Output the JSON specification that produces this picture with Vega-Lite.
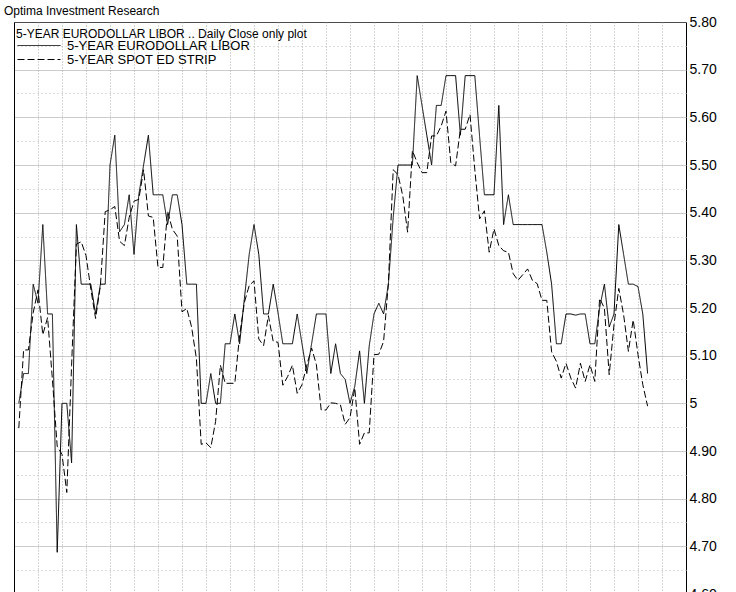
{
 "$schema": "https://vega.github.io/schema/vega-lite/v6.json",
 "width": 672,
 "height": 572,
 "autosize": {"type": "none"},
 "padding": {"left": 14, "top": 22, "right": 50, "bottom": 0},
 "background": "white",
 "title": {"text": "Optima Investment Research", "anchor": "start", "frame": "group", "font": "Liberation Sans", "fontSize": 12, "fontWeight": "normal", "color": "black", "baseline": "alphabetic", "offset": 5, "dx": -10, "dy": 17},
 "data": {"values": [
{"d":0,"libor":5.0,"strip":4.948},{"d":1,"libor":5.0625,"strip":5.112},{"d":2,"libor":5.0625,"strip":5.112},{"d":3,"libor":5.25,"strip":5.19},{"d":4,"libor":5.21,"strip":5.238},
{"d":5,"libor":5.375,"strip":5.144},{"d":6,"libor":5.1875,"strip":5.18},{"d":7,"libor":5.1875,"strip":5.05},{"d":8,"libor":4.6875,"strip":4.91},{"d":9,"libor":5.0,"strip":4.893},
{"d":10,"libor":5.0,"strip":4.813},{"d":11,"libor":4.875,"strip":5.08},{"d":12,"libor":5.375,"strip":5.334},{"d":13,"libor":5.25,"strip":5.339},{"d":14,"libor":5.25,"strip":5.31},
{"d":15,"libor":5.25,"strip":5.24},{"d":16,"libor":5.1875,"strip":5.178},{"d":17,"libor":5.25,"strip":5.247},{"d":18,"libor":5.25,"strip":5.402},{"d":19,"libor":5.5,"strip":5.406},
{"d":20,"libor":5.5625,"strip":5.413},{"d":21,"libor":5.36,"strip":5.34},{"d":22,"libor":5.375,"strip":5.331},{"d":23,"libor":5.4375,"strip":5.39},{"d":24,"libor":5.3125,"strip":5.424},
{"d":25,"libor":5.4375,"strip":5.428},{"d":26,"libor":5.5,"strip":5.49},{"d":27,"libor":5.5625,"strip":5.393},{"d":28,"libor":5.4375,"strip":5.39},{"d":29,"libor":5.4375,"strip":5.285},
{"d":30,"libor":5.4375,"strip":5.285},{"d":31,"libor":5.375,"strip":5.403},{"d":32,"libor":5.4375,"strip":5.365},{"d":33,"libor":5.4375,"strip":5.351},{"d":34,"libor":5.375,"strip":5.192},
{"d":35,"libor":5.25,"strip":5.199},{"d":36,"libor":5.25,"strip":5.16},{"d":37,"libor":5.25,"strip":5.094},{"d":38,"libor":5.0,"strip":4.914},{"d":39,"libor":5.0,"strip":4.917},
{"d":40,"libor":5.0625,"strip":4.907},{"d":41,"libor":5.0,"strip":4.962},{"d":42,"libor":5.0,"strip":5.08},{"d":43,"libor":5.125,"strip":5.042},{"d":44,"libor":5.125,"strip":5.042},
{"d":45,"libor":5.1875,"strip":5.042},{"d":46,"libor":5.125,"strip":5.142},{"d":47,"libor":5.22,"strip":5.212},{"d":48,"libor":5.3125,"strip":5.247},{"d":49,"libor":5.375,"strip":5.257},
{"d":50,"libor":5.3125,"strip":5.135},{"d":51,"libor":5.1875,"strip":5.121},{"d":52,"libor":5.1875,"strip":5.184},{"d":53,"libor":5.25,"strip":5.13},{"d":54,"libor":5.19,"strip":5.128},
{"d":55,"libor":5.125,"strip":5.038},{"d":56,"libor":5.125,"strip":5.056},{"d":57,"libor":5.125,"strip":5.08},{"d":58,"libor":5.1875,"strip":5.021},{"d":59,"libor":5.125,"strip":5.039},
{"d":60,"libor":5.0625,"strip":5.08},{"d":61,"libor":5.125,"strip":5.116},{"d":62,"libor":5.1875,"strip":5.081},{"d":63,"libor":5.1875,"strip":4.986},{"d":64,"libor":5.1875,"strip":4.986},
{"d":65,"libor":5.0625,"strip":5.001},{"d":66,"libor":5.125,"strip":5.0},{"d":67,"libor":5.0625,"strip":4.997},{"d":68,"libor":5.05,"strip":4.956},{"d":69,"libor":5.0,"strip":4.97},
{"d":70,"libor":5.036,"strip":5.032},{"d":71,"libor":5.11,"strip":4.914},{"d":72,"libor":5.0,"strip":4.938},{"d":73,"libor":5.12,"strip":4.938},{"d":74,"libor":5.1875,"strip":5.102},
{"d":75,"libor":5.21,"strip":5.103},{"d":76,"libor":5.1875,"strip":5.13},{"d":77,"libor":5.25,"strip":5.252},{"d":78,"libor":5.39,"strip":5.49},{"d":79,"libor":5.5,"strip":5.48},
{"d":80,"libor":5.5,"strip":5.435},{"d":81,"libor":5.5,"strip":5.359},{"d":82,"libor":5.5,"strip":5.53},{"d":83,"libor":5.6875,"strip":5.505},{"d":84,"libor":5.625,"strip":5.484},
{"d":85,"libor":5.5625,"strip":5.484},{"d":86,"libor":5.5,"strip":5.561},{"d":87,"libor":5.625,"strip":5.561},{"d":88,"libor":5.625,"strip":5.582},{"d":89,"libor":5.6875,"strip":5.613},
{"d":90,"libor":5.6875,"strip":5.505},{"d":91,"libor":5.6875,"strip":5.498},{"d":92,"libor":5.5625,"strip":5.575},{"d":93,"libor":5.6875,"strip":5.575},{"d":94,"libor":5.6875,"strip":5.606},
{"d":95,"libor":5.6875,"strip":5.49},{"d":96,"libor":5.56,"strip":5.387},{"d":97,"libor":5.4375,"strip":5.404},{"d":98,"libor":5.4375,"strip":5.317},{"d":99,"libor":5.4375,"strip":5.366},
{"d":100,"libor":5.625,"strip":5.331},{"d":101,"libor":5.375,"strip":5.32},{"d":102,"libor":5.4375,"strip":5.317},{"d":103,"libor":5.375,"strip":5.272},{"d":104,"libor":5.375,"strip":5.258},
{"d":105,"libor":5.375,"strip":5.27},{"d":106,"libor":5.375,"strip":5.282},{"d":107,"libor":5.375,"strip":5.258},{"d":108,"libor":5.375,"strip":5.251},{"d":109,"libor":5.375,"strip":5.216},
{"d":110,"libor":5.317,"strip":5.216},{"d":111,"libor":5.25,"strip":5.108},{"d":112,"libor":5.125,"strip":5.088},{"d":113,"libor":5.125,"strip":5.053},{"d":114,"libor":5.1875,"strip":5.084},
{"d":115,"libor":5.1875,"strip":5.053},{"d":116,"libor":5.185,"strip":5.032},{"d":117,"libor":5.1875,"strip":5.084},{"d":118,"libor":5.1875,"strip":5.046},{"d":119,"libor":5.125,"strip":5.081},
{"d":120,"libor":5.125,"strip":5.046},{"d":121,"libor":5.2,"strip":5.22},{"d":122,"libor":5.25,"strip":5.2},{"d":123,"libor":5.16,"strip":5.06},{"d":124,"libor":5.1875,"strip":5.165},
{"d":125,"libor":5.375,"strip":5.241},{"d":126,"libor":5.3125,"strip":5.186},{"d":127,"libor":5.25,"strip":5.109},{"d":128,"libor":5.25,"strip":5.175},{"d":129,"libor":5.245,"strip":5.102},
{"d":130,"libor":5.1875,"strip":5.039},{"d":131,"libor":5.0625,"strip":4.994}
 ]},
 "transform": [{"fold": ["libor", "strip"], "as": ["series", "value"]}],
 "mark": {"type": "line", "color": "black", "strokeWidth": 1, "interpolate": "linear"},
 "encoding": {
  "x": {"field": "d", "type": "quantitative", "scale": {"domain": [-1, 139], "nice": false, "zero": false},
   "axis": {"title": null, "labels": false, "ticks": false, "domain": false, "grid": true,
    "values": [4,9,14,19,24,29,34,39,44,49,54,59,64,69,74,79,84,89,94,99,104,109,114,119,124,129,134],
    "gridColor": "#aaaaaa", "gridDash": [1, 2], "gridWidth": 1}},
  "y": {"field": "value", "type": "quantitative", "scale": {"domain": [4.6, 5.8], "nice": false, "zero": false},
   "axis": {"orient": "right", "title": null, "ticks": false, "domain": false,
    "values": [4.6,4.65,4.7,4.75,4.8,4.85,4.9,4.95,5.0,5.05,5.1,5.15,5.2,5.25,5.3,5.35,5.4,5.45,5.5,5.55,5.6,5.65,5.7,5.75,5.8],
    "labelExpr": "round(datum.value*20) % 2 == 1 ? '' : (round(datum.value*100) == 500 ? '5' : format(datum.value, '.2f'))",
    "labelFont": "Liberation Sans", "labelFontSize": 14, "labelColor": "black", "labelPadding": 3,
    "labelBaseline": "middle", "labelAlign": "left", "labelOverlap": false, "labelFlush": false,
    "gridColor": {"condition": {"test": "round(datum.value*20) % 2 == 1", "value": "#bbbbbb"}, "value": "#999999"},
    "gridDash": {"condition": {"test": "round(datum.value*20) % 2 == 1", "value": [1, 3]}, "value": [1, 1]},
    "gridWidth": 1}},
  "strokeDash": {"field": "series", "type": "nominal",
   "scale": {"domain": ["libor", "strip"], "range": [[1, 0], [7, 3]]},
   "legend": {"orient": "none", "legendX": 2, "legendY": 7,
    "title": "5-YEAR EURODOLLAR LIBOR .. Daily Close only plot",
    "titleFont": "Liberation Sans", "titleFontSize": 12, "titleFontWeight": "normal", "titleColor": "black", "titlePadding": -2, "titleLimit": 0,
    "labelFont": "Liberation Sans", "labelFontSize": 13, "labelColor": "black", "labelLimit": 0,
    "labelExpr": "datum.label == 'libor' ? '5-YEAR EURODOLLAR LIBOR' : '5-YEAR SPOT ED STRIP'",
    "symbolType": "M-4.3,0H4.3", "symbolSize": 100, "symbolStrokeColor": "black", "symbolStrokeWidth": 1,
    "symbolOffset": 16.5, "labelOffset": 21.5, "rowPadding": -4, "padding": 0}}
 },
 "config": {"view": {"stroke": "black", "strokeWidth": 1}}
}
